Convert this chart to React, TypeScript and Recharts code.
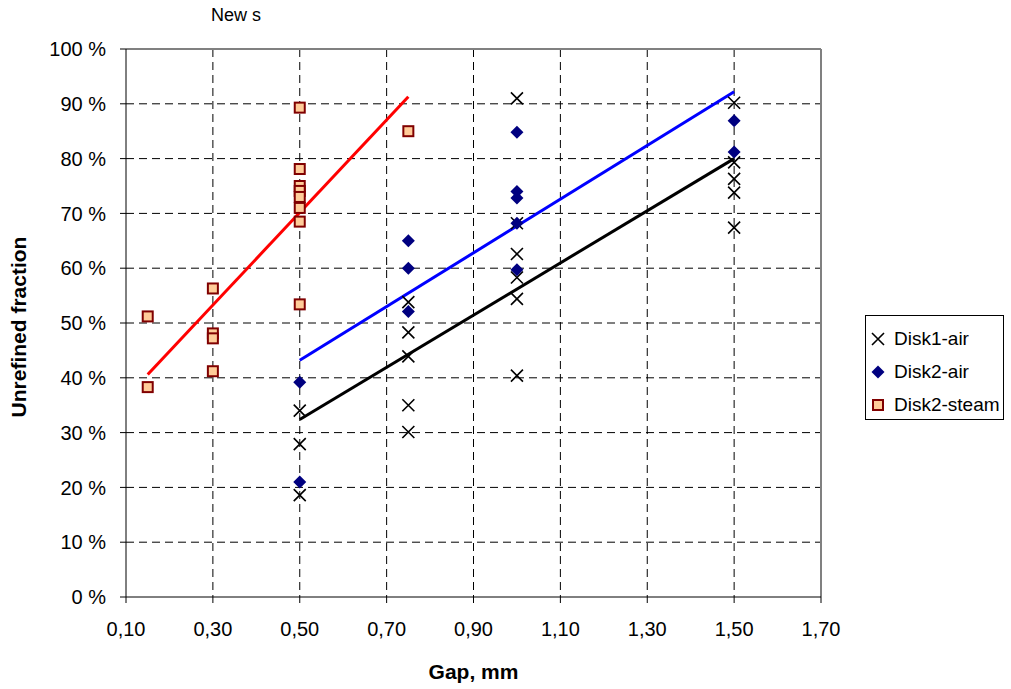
import React from 'react';
import { ComposedChart, Scatter, XAxis, YAxis, CartesianGrid, ReferenceLine } from 'recharts';

// Gap (mm) and unrefined fraction (%)
const disk1X = [0.5, 0.5, 0.5, 0.75, 0.75, 0.75, 0.75, 0.75, 1.0, 1.0, 1.0, 1.0, 1.0, 1.0, 1.5, 1.5, 1.5, 1.5, 1.5];
const disk1Y = [34, 27.9, 18.6, 53.8, 48.3, 43.9, 35, 30.1, 91, 68.2, 62.6, 58.3, 54.4, 40.4, 90.2, 79.3, 76.3, 73.8, 67.4];

const disk2X = [0.5, 0.5, 0.75, 0.75, 0.75, 1.0, 1.0, 1.0, 1.0, 1.0, 1.5, 1.5];
const disk2Y = [39.2, 21, 65, 60, 52.1, 84.8, 74, 72.8, 68.2, 59.7, 86.9, 81.2];

const steamX = [0.15, 0.15, 0.3, 0.3, 0.3, 0.3, 0.5, 0.5, 0.5, 0.5, 0.5, 0.5, 0.5, 0.5, 0.75];
const steamY = [51.2, 38.3, 56.3, 48.1, 47.2, 41.2, 89.3, 78.1, 75, 74.1, 73, 71, 68.5, 53.4, 85];

// trend line end points
const disk1TrendX = [0.5, 1.5];
const disk1TrendY = [32.4, 80];
const disk2TrendX = [0.5, 1.5];
const disk2TrendY = [43.2, 92.2];
const steamTrendX = [0.15, 0.75];
const steamTrendY = [40.6, 91.3];

const xTicks = [0.1, 0.3, 0.5, 0.7, 0.9, 1.1, 1.3, 1.5, 1.7];
const yTicks = [0, 10, 20, 30, 40, 50, 60, 70, 80, 90, 100];

const toPoints = (xs: number[], ys: number[]) => xs.map((x, i) => ({ x, y: ys[i] }));

const font = '"Liberation Sans", Arial, sans-serif';

const Cross = (p: any) => (
  <path
    d={`M${p.cx - 6},${p.cy - 6}L${p.cx + 6},${p.cy + 6}M${p.cx + 6},${p.cy - 6}L${p.cx - 6},${p.cy + 6}`}
    stroke="#000"
    strokeWidth={1.6}
    fill="none"
  />
);

const Diamond = (p: any) => (
  <path
    d={`M${p.cx},${p.cy - 6.5}L${p.cx + 6.5},${p.cy}L${p.cx},${p.cy + 6.5}L${p.cx - 6.5},${p.cy}Z`}
    fill="#000080"
  />
);

const Square = (p: any) => (
  <rect x={p.cx - 5} y={p.cy - 5} width={10} height={10} fill="#FFCC99" stroke="#800000" strokeWidth={2} />
);

const NoDot = () => null;

const legendItems = [
  { name: 'Disk1-air', Shape: Cross },
  { name: 'Disk2-air', Shape: Diamond },
  { name: 'Disk2-steam', Shape: Square },
];

export default function App() {
  return (
    <div style={{ position: 'absolute', left: 0, top: 0, width: 1011, height: 689, background: '#fff', fontFamily: font }}>
      <ComposedChart width={1011} height={689} margin={{ top: 49, right: 190, bottom: 0, left: 0 }}>
        <CartesianGrid
          stroke="#000"
          strokeDasharray="8 5"
          horizontalValues={[10, 20, 30, 40, 50, 60, 70, 80, 90]}
          verticalValues={[0.3, 0.5, 0.7, 0.9, 1.1, 1.3, 1.5]}
        />
        <ReferenceLine y={100} stroke="#808080" strokeWidth={2} />
        <ReferenceLine x={1.7} stroke="#808080" strokeWidth={2} />
        <XAxis
          type="number"
          dataKey="x"
          domain={[0.1, 1.7]}
          ticks={xTicks}
          tickFormatter={(v: number) => v.toFixed(2).replace('.', ',')}
          height={92}
          tickSize={6}
          tickMargin={19}
          stroke="#000"
          tick={{ fill: '#000', fontSize: 20, fontFamily: font }}
          allowDataOverflow
          label={{ value: 'Gap, mm', position: 'insideBottom', offset: 10, fill: '#000', fontSize: 21, fontWeight: 'bold', fontFamily: font }}
        />
        <YAxis
          type="number"
          dataKey="y"
          domain={[0, 100]}
          ticks={yTicks}
          tickFormatter={(v: number) => `${v} %`}
          width={126}
          tickSize={6}
          tickMargin={14}
          stroke="#000"
          tick={{ fill: '#000', fontSize: 20, fontFamily: font }}
          allowDataOverflow
        />
        <Scatter data={toPoints(steamTrendX, steamTrendY)} line={{ stroke: '#FF0000', strokeWidth: 3 }} shape={NoDot} isAnimationActive={false} />
        <Scatter data={toPoints(disk2TrendX, disk2TrendY)} line={{ stroke: '#0000FF', strokeWidth: 3 }} shape={NoDot} isAnimationActive={false} />
        <Scatter data={toPoints(disk1TrendX, disk1TrendY)} line={{ stroke: '#000', strokeWidth: 3 }} shape={NoDot} isAnimationActive={false} />
        <Scatter name="Disk1-air" data={toPoints(disk1X, disk1Y)} shape={Cross} isAnimationActive={false} />
        <Scatter name="Disk2-air" data={toPoints(disk2X, disk2Y)} shape={Diamond} isAnimationActive={false} />
        <Scatter name="Disk2-steam" data={toPoints(steamX, steamY)} shape={Square} isAnimationActive={false} />
      </ComposedChart>

      <div style={{ position: 'absolute', left: 0, top: 5, width: 472, textAlign: 'center', fontSize: 18 }}>New s</div>

      <div
        style={{
          position: 'absolute',
          left: 19,
          top: 327,
          transform: 'translate(-50%, -50%) rotate(-90deg)',
          whiteSpace: 'nowrap',
          fontSize: 21,
          fontWeight: 'bold',
        }}
      >
        Unrefined fraction
      </div>

      <div
        style={{
          position: 'absolute',
          left: 865,
          top: 315,
          width: 139,
          height: 105,
          border: '1px solid #000',
          boxSizing: 'border-box',
          paddingTop: 6,
        }}
      >
        {legendItems.map(({ name, Shape }) => (
          <div key={name} style={{ display: 'flex', alignItems: 'center', height: 33, fontSize: 19 }}>
            <svg width={28} height={20} style={{ flex: 'none' }}>
              <Shape cx={12} cy={10} />
            </svg>
            <span>{name}</span>
          </div>
        ))}
      </div>
    </div>
  );
}
